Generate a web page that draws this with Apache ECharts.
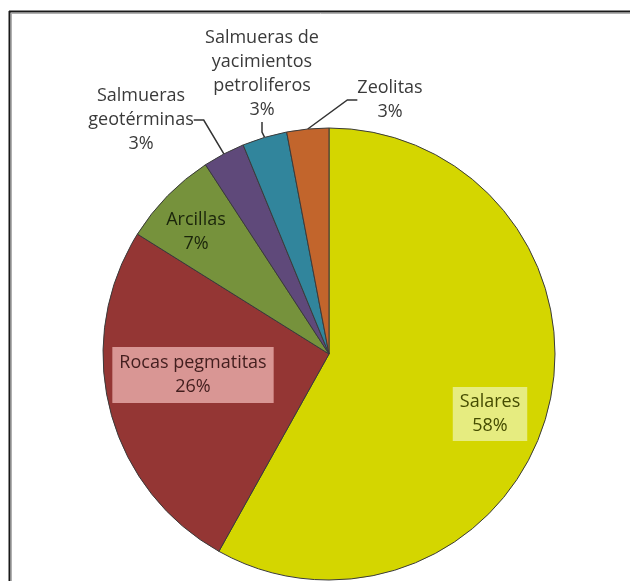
<!DOCTYPE html>
<html>
<head>
<meta charset="utf-8">
<script src="https://cdn.jsdelivr.net/npm/echarts@6/dist/echarts.min.js"></script>
<style>
  html, body { margin: 0; padding: 0; background: #fff; }
  #chart { width: 630px; height: 581px; }
</style>
</head>
<body>
<div id="chart"></div>
<script>
// fuentes de litio: share of each source
const categories = [
  'Salares',
  'Rocas pegmatitas',
  'Arcillas',
  'Salmueras\ngeotérminas',
  'Salmueras de\nyacimientos\npetroliferos',
  'Zeolitas',
]
const shares = [58.1, 25.8, 6.9, 3.0, 3.2, 3.0]
const percentLabels = ['58%', '26%', '7%', '3%', '3%', '3%']

const colors = ['#d4d600', '#943634', '#76923c', '#5f497a', '#31859c', '#c2652c']

// where each label sits (centre of the text block)
const labelSpots = [[490, 414], [193, 375], [196, 232], [141, 120], [262, 74], [390, 100]]

const labelStyles = [
  { color: '#454c00', backgroundColor: '#e6ec80', padding: [3, 7] },
  { color: '#421e1e', backgroundColor: '#d99694', padding: [4, 7] },
  { color: '#1b250b' },
  { color: '#3a3a3a' },
  { color: '#3a3a3a' },
  { color: '#3a3a3a' },
]

const chart = echarts.init(document.getElementById('chart'))

const data = categories.map((name, i) => {
  const inside = i < 3
  return {
    name,
    value: shares[i],
    itemStyle: { color: colors[i] },
    label: Object.assign({ position: inside ? 'inside' : 'outside' }, labelStyles[i]),
    labelLine: { show: !inside },
  }
})

chart.setOption({
  animation: false,
  graphic: [
    { type: 'line', shape: { x1: 9.5, y1: 11, x2: 9.5, y2: 581 }, style: { stroke: '#1a1a1a', lineWidth: 2 } },
    { type: 'line', shape: { x1: 9, y1: 11.5, x2: 630, y2: 11.5 }, style: { stroke: '#1a1a1a', lineWidth: 2 } },
    { type: 'line', shape: { x1: 11.5, y1: 13, x2: 11.5, y2: 581 }, style: { stroke: '#b0b0b0', lineWidth: 1 } },
    { type: 'line', shape: { x1: 11, y1: 13.5, x2: 630, y2: 13.5 }, style: { stroke: '#b0b0b0', lineWidth: 1 } },
  ],
  series: [
    {
      type: 'pie',
      center: [329, 354],
      radius: 226,
      startAngle: 90,
      clockwise: true,
      data,
      itemStyle: { borderColor: '#3a3a3a', borderWidth: 1 },
      label: {
        fontFamily: 'Open Sans',
        fontSize: 18,
        lineHeight: 24,
        align: 'center',
        overflow: 'none',
        formatter: (p) => p.name + '\n' + percentLabels[p.dataIndex],
      },
      labelLine: {
        length: 10,
        length2: 10,
        lineStyle: { color: '#333', width: 1.5 },
      },
      labelLayout: (p) => ({
        x: labelSpots[p.dataIndex][0],
        y: labelSpots[p.dataIndex][1],
        align: 'center',
        verticalAlign: 'middle',
      }),
      emphasis: { disabled: true },
    },
  ],
})
</script>
</body>
</html>
